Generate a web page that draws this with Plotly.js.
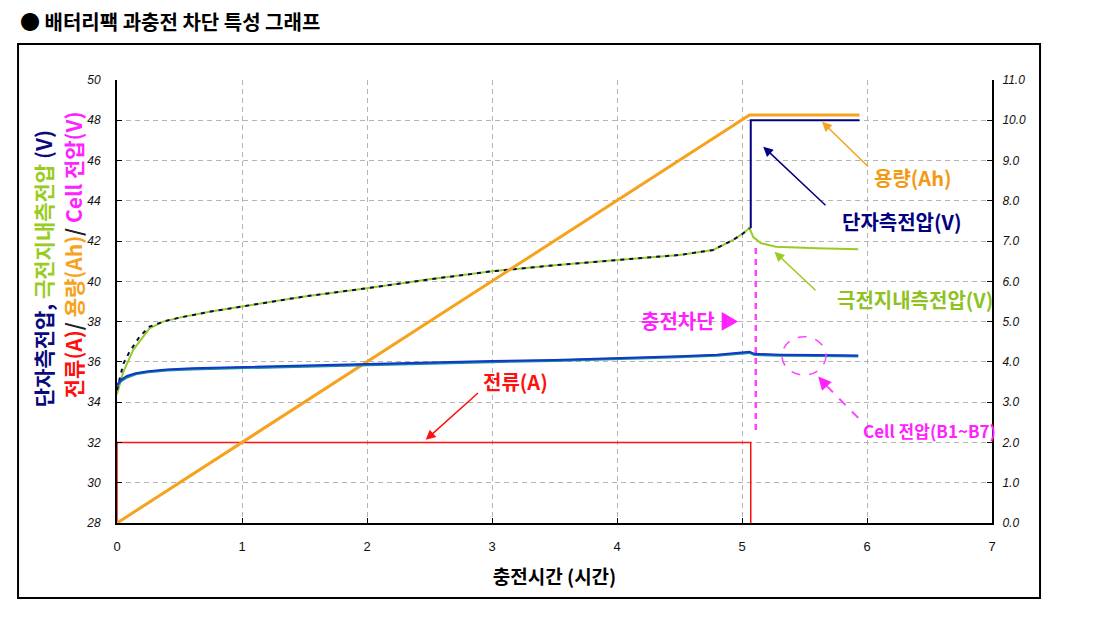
<!DOCTYPE html>
<html><head><meta charset="utf-8">
<script src="https://cdn.plot.ly/plotly-3.0.1.min.js"></script>
<style>body{margin:0;background:#fff}</style>
</head><body><div id="chart" style="width:1113px;height:617px"></div>
<script>
// ---- data (hours, volts, Ah, A) ----
const timeCapacity = [0, 5.06, 5.94];
const capacityAh = [0, 10.13, 10.13];

const timeCurrent = [0, 0, 5.07, 5.07];
const currentA = [0, 2.0, 2.0, 0];

const timePole = [0,0.05,0.13,0.26,0.37,0.5,0.75,1.0,1.5,2.0,2.5,3.0,3.5,4.0,4.5,4.77,4.93,5.01,5.06,5.09,5.15,5.27,5.6,5.93];
const poleV    = [34.4,35.5,36.6,37.67,38.0,38.2,38.5,38.75,39.25,39.66,40.1,40.5,40.8,41.06,41.31,41.56,42.06,42.39,42.64,42.2,41.9,41.72,41.64,41.6];

const timeTerminalCharge = [0,0.05,0.1,0.18,0.26,0.37,0.5,0.75,1.0,1.5,2.0,2.5,3.0,3.5,4.0,4.5,4.77,4.93,5.01,5.06];
const terminalChargeV    = [34.6,35.9,36.5,37.25,37.75,38.0,38.2,38.5,38.75,39.25,39.66,40.1,40.5,40.8,41.06,41.31,41.56,42.06,42.39,42.64];
const timeTerminalCut = [5.07, 5.07, 5.94];
const terminalCutV    = [42.64, 48.0, 48.0];

const timeCell = [0,0.03,0.08,0.15,0.25,0.4,0.6,1.0,1.5,2.0,2.5,3.0,3.5,4.0,4.5,4.8,5.0,5.06,5.1,5.3,5.6,5.93];
const cellV_B1 = [3.43,3.55,3.65,3.72,3.77,3.81,3.84,3.87,3.92,3.96,3.99,4.02,4.05,4.09,4.14,4.18,4.22,4.25,4.20,4.18,4.17,4.16];
const cellV_B2 = [3.40,3.52,3.62,3.70,3.75,3.79,3.82,3.85,3.90,3.94,3.97,4.00,4.03,4.07,4.12,4.16,4.20,4.23,4.18,4.16,4.15,4.14];

const timeCutoff = [5.11, 5.11];
const cutoffV = [41.66, 32.6];

const xTicks = [0,1,2,3,4,5,6,7];

// ---- traces ----
const KR = 'Noto Sans CJK KR';
const traces = [
  {x: timeCurrent, y: currentA, yaxis:'y2', mode:'lines', line:{color:'#ff1010', width:1.5}, hoverinfo:'skip'},
  {x: timeCapacity, y: capacityAh, yaxis:'y2', mode:'lines', line:{color:'#f7a21c', width:3}, hoverinfo:'skip'},
  {x: timeCell, y: cellV_B2, yaxis:'y2', mode:'lines', line:{color:'#1b8aa0', width:2.5}, hoverinfo:'skip'},
  {x: timeCell, y: cellV_B1, yaxis:'y2', mode:'lines', line:{color:'#1038c8', width:2}, hoverinfo:'skip'},
  {x: timePole, y: poleV, mode:'lines', line:{color:'#99cc22', width:2}, hoverinfo:'skip'},
  {x: timeTerminalCharge, y: terminalChargeV, mode:'lines', line:{color:'#0a0a50', width:2, dash:'4px,5px'}, hoverinfo:'skip'},
  {x: timeTerminalCut, y: terminalCutV, mode:'lines', line:{color:'#000080', width:2}, hoverinfo:'skip'},
  {x: timeCutoff, y: cutoffV, mode:'lines', line:{color:'#ff44ff', width:2.5, dash:'6px,5px'}, hoverinfo:'skip'}
];

function arrow(x, y, ax, ay, color, width) {
  return {x:x, y:y, ax:ax, ay:ay, xref:'x', yref:'y', axref:'x', ayref:'y', text:'', showarrow:true,
          arrowhead:2, arrowsize:1.3, arrowwidth:width||1.5, arrowcolor:color, standoff:0, startstandoff:0};
}
function label(x, y, text, color, size) {
  return {x:x, y:y, xref:'x', yref:'y', text:'<b>'+text+'</b>', showarrow:false,
          font:{family:KR, size:size||20, color:color}, xanchor:'center', yanchor:'middle'};
}

const annotations = [
  // page title
  {xref:'paper', yref:'paper', x:-0.1131, y:1.131, xanchor:'left', yanchor:'middle', showarrow:false,
   text:'<b>● 배터리팩 과충전 차단 특성 그래프</b>', font:{family:KR, size:20, color:'#000'}},
  // left axis titles (two rotated lines)
  {xref:'paper', yref:'paper', x:-0.0846, y:0.575, textangle:-90, showarrow:false, xanchor:'center', yanchor:'middle',
   text:'<b><span style="color:#0a0a80">단자측전압, </span><span style="color:#99cc22">극전지내측전압</span><span style="color:#0a0a80"> (V)</span></b>',
   font:{family:KR, size:21}},
  {xref:'paper', yref:'paper', x:-0.05, y:0.605, textangle:-90, showarrow:false, xanchor:'center', yanchor:'middle',
   text:'<b><span style="color:#ff1010">전류(A)</span><span style="color:#222">/ </span><span style="color:#f7a21c">용량(Ah)</span><span style="color:#222">/ </span><span style="color:#ff22ff">Cell 전압(V)</span></b>',
   font:{family:KR, size:21}},
  // callouts
  arrow(5.64, 47.93, 6.02, 45.63, '#f7a21c', 1.5),
  label(6.37, 45.18, '용량(Ah)', '#f39a12'),
  arrow(5.17, 46.69, 5.68, 43.71, '#000080', 1.5),
  label(6.28, 42.95, '단자측전압(V)', '#000080'),
  arrow(5.26, 41.47, 5.60, 39.49, '#99cc22', 1.5),
  label(6.38, 39.08, '극전지내측전압(V)', '#8dc21f'),
  label(4.58, 38.08, '충전차단 ▶', '#ff22ff'),
  arrow(5.61, 35.27, 5.67, 34.85, '#ff22ff', 2),
  label(6.5, 32.57, 'Cell 전압(B1~B7)', '#ff22ff', 17),
  arrow(2.47, 32.13, 2.90, 34.52, '#ff1010', 1.5),
  label(3.19, 35.05, '전류(A)', '#ff1010')
];

const shapes = [
  // outer frame
  {type:'rect', xref:'paper', yref:'paper', x0:-0.1131, x1:1.0549, y0:-0.1693, y1:1.0813,
   line:{color:'#000', width:2}, fillcolor:'rgba(0,0,0,0)'},
  // dashed circle marking the cell voltages
  {type:'circle', xref:'x', yref:'y', x0:5.32, x1:5.672, y0:35.35, y1:37.25,
   line:{color:'#ff44ff', width:1.5, dash:'dash'}},
  // dashed pointer line for the cell label
  {type:'line', xref:'x', yref:'y', x0:5.93, y0:33.22, x1:5.67, y1:34.85,
   line:{color:'#ff44ff', width:2, dash:'dash'}}
];

const layout = {
  width:1113, height:617,
  margin:{l:117, r:121, t:80, b:94},
  paper_bgcolor:'#fff', plot_bgcolor:'#fff',
  showlegend:false,
  font:{family:'Liberation Sans', color:'#111'},
  xaxis:{range:[0,7], tickvals:xTicks, showgrid:true, gridcolor:'#b4b4b4', gridwidth:1, griddash:'5px,4px',
         showline:true, linecolor:'#000', linewidth:2, ticks:'inside', ticklen:5, tickcolor:'#000',
         zeroline:false, tickfont:{family:'Liberation Sans', size:13, color:'#111'}, ticklabelstandoff:10,
         title:{text:'<b>충전시간 (시간)</b>', font:{family:KR, size:19, color:'#000'}, standoff:18}},
  yaxis:{range:[28,50], dtick:2, tick0:28, showgrid:true, gridcolor:'#b4b4b4', gridwidth:1, griddash:'5px,4px',
         showline:true, linecolor:'#000', linewidth:2, ticks:'inside', ticklen:5, tickcolor:'#000',
         zeroline:false, tickfont:{family:'Liberation Sans', size:12, color:'#111', style:'italic'}, ticklabelstandoff:12},
  yaxis2:{range:[0,11], dtick:1, tick0:0, tickformat:'.1f', overlaying:'y', side:'right', showgrid:false,
          showline:true, linecolor:'#000', linewidth:2, ticks:'inside', ticklen:5, tickcolor:'#000',
          zeroline:false, tickfont:{family:'Liberation Sans', size:12, color:'#111', style:'italic'}, ticklabelstandoff:6},
  annotations:annotations,
  shapes:shapes
};

Plotly.newPlot('chart', traces, layout, {staticPlot:true, displayModeBar:false});
</script>
</body></html>
